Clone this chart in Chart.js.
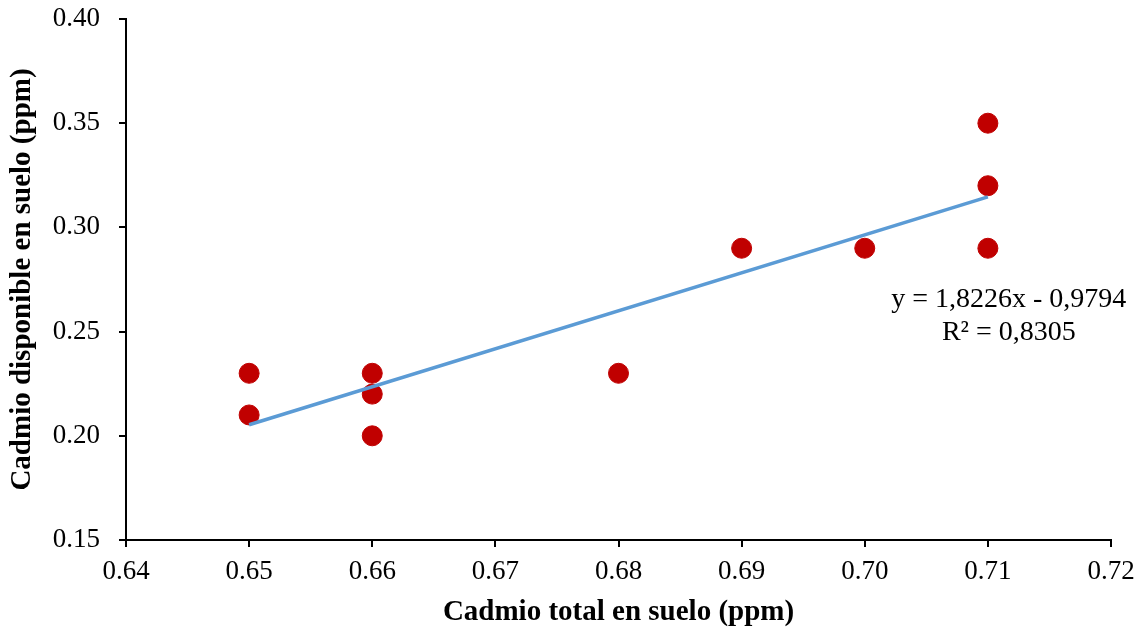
<!DOCTYPE html>
<html>
<head>
<meta charset="utf-8">
<script src="https://cdn.jsdelivr.net/npm/chart.js@4/dist/chart.umd.min.js"></script>
<style>
  html, body { margin: 0; padding: 0; background: #fff; }
  #wrap { width: 1146px; height: 630px; }
</style>
</head>
<body>
<div id="wrap"><canvas id="chart"></canvas></div>
<script>
const cd_total = [0.65, 0.65, 0.66, 0.66, 0.66, 0.68, 0.69, 0.70, 0.71, 0.71, 0.71];
const cd_disponible = [0.23, 0.21, 0.23, 0.22, 0.20, 0.23, 0.29, 0.29, 0.35, 0.32, 0.29];

// linear trendline as printed on the chart
const trend_slope = 1.8226;
const trend_intercept = -0.9794;
const trend_x = [0.65, 0.71];
const trend_labels = ['y = 1,8226x - 0,9794', 'R² = 0,8305'];
const trend_label_at = [0.7117, 0.2652];

const x_ticks = [0.64, 0.65, 0.66, 0.67, 0.68, 0.69, 0.70, 0.71, 0.72];
const y_ticks = [0.15, 0.20, 0.25, 0.30, 0.35, 0.40];

const serif = "'Liberation Serif', 'Times New Roman', serif";

const trend_text = {
    id: 'trend_text',
    afterDatasetsDraw(chart) {
        const ctx = chart.ctx;
        const px = chart.scales.x.getPixelForValue(trend_label_at[0]);
        const py = chart.scales.y.getPixelForValue(trend_label_at[1]);
        ctx.save();
        ctx.fillStyle = '#000';
        ctx.font = `28px ${serif}`;
        ctx.textAlign = 'center';
        ctx.textBaseline = 'middle';
        ctx.fillText(trend_labels[0], px, py);
        ctx.fillText(trend_labels[1], px, py + 33);
        ctx.restore();
    }
};

window.addEventListener('load', () => {
    const points = cd_total.map((x, i) => ({x: x, y: cd_disponible[i]}));
    const trend = trend_x.map(x => ({x: x, y: trend_slope * x + trend_intercept}));

    new Chart(document.getElementById('chart'), {
        type: 'scatter',
        data: {
            datasets: [
                {
                    type: 'line',
                    data: trend,
                    borderColor: '#5B9BD5',
                    borderWidth: 3.5,
                    pointRadius: 0,
                    fill: false,
                    order: 0
                },
                {
                    data: points,
                    backgroundColor: '#C00000',
                    borderColor: '#C00000',
                    pointRadius: 10,
                    pointHoverRadius: 10,
                    order: 1
                }
            ]
        },
        plugins: [trend_text],
        options: {
            responsive: true,
            maintainAspectRatio: false,
            animation: false,
            layout: { padding: { top: 19, right: 35, left: 0, bottom: 0 } },
            plugins: { legend: { display: false }, tooltip: { enabled: false } },
            scales: {
                x: {
                    type: 'linear',
                    min: 0.64, max: 0.72,
                    afterBuildTicks: (axis) => { axis.ticks = x_ticks.map(v => ({value: v})); },
                    afterFit: (axis) => { axis.height = 90; axis.paddingLeft = 0; axis.paddingRight = 0; },
                    border: { display: true, color: '#000', width: 2 },
                    grid: { drawOnChartArea: false, drawTicks: true, tickLength: 7, color: '#000', lineWidth: 2 },
                    ticks: {
                        padding: 9,
                        color: '#000',
                        font: { family: serif, size: 27 },
                        callback: (v) => v.toFixed(2)
                    },
                    title: {
                        display: true,
                        text: 'Cadmio total en suelo (ppm)',
                        color: '#000',
                        font: { family: serif, size: 29, weight: 'bold' },
                        padding: { top: 0, bottom: 0 }
                    }
                },
                y: {
                    type: 'linear',
                    min: 0.15, max: 0.40,
                    afterBuildTicks: (axis) => { axis.ticks = y_ticks.map(v => ({value: v})); },
                    afterFit: (axis) => { axis.width = 126; axis.paddingTop = 0; axis.paddingBottom = 0; },
                    border: { display: true, color: '#000', width: 2 },
                    grid: { drawOnChartArea: false, drawTicks: true, tickLength: 7, color: '#000', lineWidth: 2 },
                    ticks: {
                        padding: 19,
                        color: '#000',
                        font: { family: serif, size: 27 },
                        callback: (v) => v.toFixed(2)
                    },
                    title: {
                        display: true,
                        text: 'Cadmio disponible en suelo (ppm)',
                        color: '#000',
                        font: { family: serif, size: 29, weight: 'bold' },
                        padding: { top: 5, bottom: 0 }
                    }
                }
            }
        }
    });
});
</script>
</body>
</html>
